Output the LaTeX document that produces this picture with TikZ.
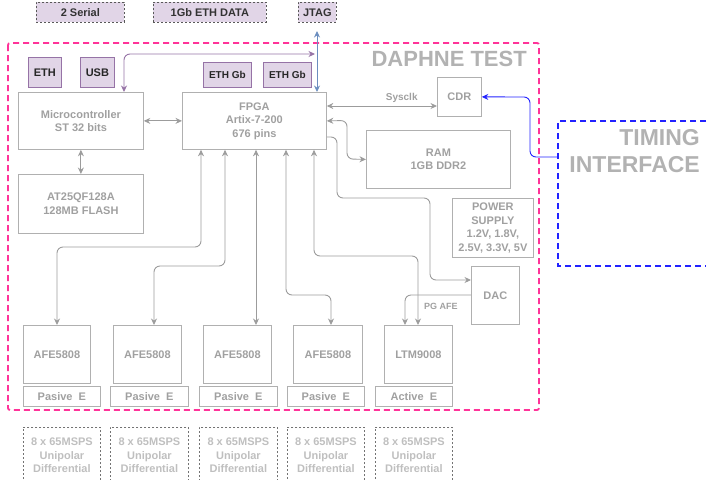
\documentclass[tikz,border=0pt]{standalone}
\usepackage{fontspec}
\setmainfont{Liberation Sans}
\usetikzlibrary{arrows.meta}
\definecolor{bxgray}{HTML}{B0B0B0}
\definecolor{txgray}{HTML}{A0A0A0}
\definecolor{argray}{HTML}{9C9C9C}
\definecolor{lav}{HTML}{E1D5E7}
\definecolor{purp}{HTML}{9673A6}
\definecolor{jblue}{HTML}{6C8EBF}
\definecolor{pinkc}{HTML}{FF3399}
\definecolor{tblue}{HTML}{2222FF}
\begin{document}
\begin{tikzpicture}[x=1pt,y=-1pt,
  box/.style={draw=bxgray, line width=0.8pt, text=txgray, font=\bfseries\fontsize{11}{13.5}\selectfont, align=center, inner sep=0pt, anchor=north west},
  topbox/.style={draw=black!65, dashed, dash pattern=on 2pt off 2pt, fill=lav, line width=0.7pt, text=black!80, font=\bfseries\fontsize{11}{13}\selectfont, inner sep=0pt, anchor=north west},
  chipbox/.style={draw=purp, fill=lav, line width=0.8pt, text=black!85, font=\bfseries\fontsize{11}{13}\selectfont, inner sep=0pt, anchor=north west},
  sigbox/.style={draw=black!55, dash pattern=on 2pt off 2pt, line width=0.8pt, text=black!25, font=\bfseries\fontsize{11}{13.5}\selectfont, align=center, inner sep=0pt, anchor=north west},
  arr/.style={draw=argray, line width=0.9pt, rounded corners=6pt, -{Stealth[length=6.5pt,width=6pt]}},
  barr/.style={draw=argray, line width=0.9pt, rounded corners=6pt, {Stealth[length=6.5pt,width=6pt]}-{Stealth[length=6.5pt,width=6pt]}},
]
\useasboundingbox (0,0) rectangle (708,479);

% top dashed boxes
\node[topbox, minimum width=88, minimum height=20] (ser) at (36,2) {2 Serial};
\node[topbox, minimum width=113, minimum height=20] (eth) at (153,2) {1Gb ETH DATA};
\node[topbox, minimum width=38, minimum height=20] (jtag) at (298,2) {JTAG};

% containers
\draw[pinkc, line width=1.8pt, dash pattern=on 6pt off 4pt, rounded corners=2pt] (8,43) rectangle (539,410);
\node[anchor=base east, text=black!30, font=\bfseries\fontsize{22}{24}\selectfont, inner sep=0pt] (dt) at (527,66) {DAPHNE TEST};
\draw[tblue, line width=1.8pt, dash pattern=on 6pt off 4pt] (706,121) -- (558,121) -- (558,266) -- (706,266);
\node[anchor=base east, text=black!30, font=\bfseries\fontsize{23}{27}\selectfont, inner sep=0pt, align=right] (ti) at (700,172) {TIMING\\INTERFACE};

% chips
\node[chipbox, minimum width=33, minimum height=30] (ethc) at (28,57) {ETH};
\node[chipbox, minimum width=34, minimum height=30] (usb) at (80,57) {USB};
\node[chipbox, minimum width=48, minimum height=25, font=\bfseries\fontsize{10}{12}\selectfont] (egb1) at (203,62) {ETH Gb};
\node[chipbox, minimum width=48, minimum height=25, font=\bfseries\fontsize{10}{12}\selectfont] (egb2) at (263,62) {ETH Gb};

% main blocks
\node[box, minimum width=125, minimum height=57] (mc) at (18,92) {Microcontroller\\ST 32 bits};
\node[box, minimum width=144, minimum height=57] (fpga) at (182,92) {FPGA\\Artix-7-200\\676 pins};
\node[box, minimum width=125, minimum height=59] (flash) at (18,174) {AT25QF128A\\128MB FLASH};
\node[box, minimum width=44, minimum height=39] (cdr) at (437,77) {CDR};
\node[box, minimum width=144, minimum height=58] (ram) at (366,130) {RAM\\1GB DDR2};
\node[box, minimum width=81, minimum height=59] (ps) at (452,198) {POWER\\SUPPLY\\1.2V, 1.8V,\\2.5V, 3.3V, 5V};
\node[box, minimum width=48, minimum height=58] (dac) at (471,266) {DAC};

% front ends
\node[box, minimum width=67, minimum height=58] (afe1) at (23,325) {AFE5808};
\node[box, minimum width=68, minimum height=58] (afe2) at (113,325) {AFE5808};
\node[box, minimum width=68, minimum height=58] (afe3) at (203,325) {AFE5808};
\node[box, minimum width=69, minimum height=58] (afe4) at (293,325) {AFE5808};
\node[box, minimum width=68, minimum height=58] (ltm) at (384,325) {LTM9008};

\node[box, minimum width=77, minimum height=20] (p1) at (23,386) {Pasive\ \ E};
\node[box, minimum width=78, minimum height=20] (p2) at (110,386) {Pasive\ \ E};
\node[box, minimum width=78, minimum height=20] (p3) at (199,386) {Pasive\ \ E};
\node[box, minimum width=77, minimum height=20] (p4) at (287,386) {Pasive\ \ E};
\node[box, minimum width=77, minimum height=20] (p5) at (375,386) {Active\ \ E};

\node[sigbox, minimum width=77, minimum height=56] (s1) at (23,427) {8 x 65MSPS\\Unipolar\\Differential};
\node[sigbox, minimum width=78, minimum height=56] (s2) at (110,427) {8 x 65MSPS\\Unipolar\\Differential};
\node[sigbox, minimum width=78, minimum height=56] (s3) at (199,427) {8 x 65MSPS\\Unipolar\\Differential};
\node[sigbox, minimum width=77, minimum height=56] (s4) at (287,427) {8 x 65MSPS\\Unipolar\\Differential};
\node[sigbox, minimum width=77, minimum height=56] (s5) at (375,427) {8 x 65MSPS\\Unipolar\\Differential};

% coordinates
\coordinate (jt) at (317,31);
\coordinate (pu) at (315,54);
\coordinate (tin) at (558,157);

% connectors
\draw[barr, draw=purp] (mc.north -| 124,0) -- (124,54) -- (pu);
\draw[barr, draw=jblue, rounded corners=0pt] (jt) -- (fpga.north -| jt);
\draw[barr] (mc.east) -- (fpga.west);
\draw[barr] (mc.south) -- (flash.north);
\draw[barr] (fpga.east |- 0,106) -- (cdr.west |- 0,106) node[pos=0.68, above=3pt, text=txgray, font=\bfseries\fontsize{10}{12}\selectfont, inner sep=0pt] (sys) {Sysclk};
\draw[barr] (fpga.east) -- (347,120.5) -- (347,159) -- (ram.west);
\draw[arr] (fpga.east |- 0,137) -- (337,137) -- (337,198) -- (430,198) -- (430,280) -- (dac.west |- 0,280);
\draw[arr] (dac.west |- 0,295) -- (405,295) -- (ltm.north -| 405,0);
\node[anchor=west, text=txgray, font=\bfseries\fontsize{9}{11}\selectfont, inner sep=0pt] (pg) at (424,306) {PG AFE};
\draw[arr, draw=tblue] (tin) -- (530,157) -- (530,97) -- (cdr.east);

\draw[barr] (fpga.south -| 201,0) -- (201,247) -- (57,247) -- (afe1.north -| 57,0);
\draw[barr] (fpga.south -| 225,0) -- (225,266) -- (154,266) -- (afe2.north -| 154,0);
\draw[barr] (fpga.south -| 256,0) -- (afe3.north -| 256,0);
\draw[barr] (fpga.south -| 286,0) -- (286,295) -- (331,295) -- (afe4.north -| 331,0);
\draw[barr] (fpga.south -| 314,0) -- (314,256) -- (418,256) -- (ltm.north -| 418,0);
\end{tikzpicture}
\end{document}
